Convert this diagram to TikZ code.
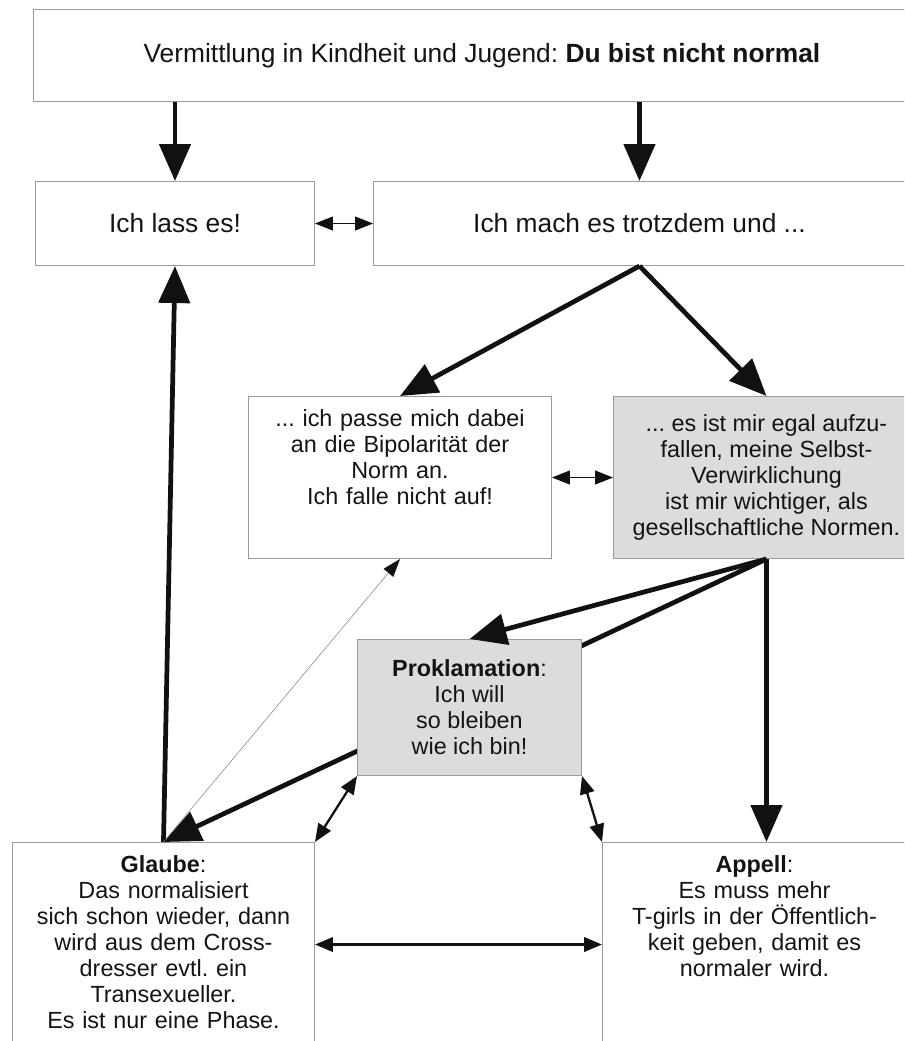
\documentclass[tikz,border=0pt]{standalone}
\usepackage{fontspec}
\setmainfont{Liberation Sans}
\usetikzlibrary{arrows.meta}
\definecolor{rahmen}{HTML}{9A9A9A}
\definecolor{grau}{HTML}{DCDCDC}
\definecolor{schrift}{HTML}{141414}
\definecolor{pfeil}{HTML}{111111}
\frenchspacing
\begin{document}
\begin{tikzpicture}[x=0.02cm,y=-0.02cm,
  box/.style={draw=rahmen,line width=0.6pt,inner sep=0pt,anchor=north west,align=center,
    text=schrift,font=\fontsize{13.3pt}{14.8pt}\selectfont},
  grossbox/.style={box,font=\fontsize{15pt}{17pt}\selectfont},
  graubox/.style={box,fill=grau},
  obenbox/.style={box,text height=0.6cm},
  dick/.style={draw=pfeil,line width=2.7pt,-{Triangle[length=0.74cm,width=0.62cm]}},
  doppel/.style={draw=pfeil,line width=1.3pt,{Triangle[length=0.36cm,width=0.29cm]}-{Triangle[length=0.36cm,width=0.29cm]}},
  fein/.style={draw=pfeil,line width=0.5pt,{Triangle[length=0.36cm,width=0.28cm]}-{Triangle[length=0.36cm,width=0.28cm]}},
  hauch/.style={draw=gray,line width=0.3pt,-{Triangle[length=0.36cm,width=0.25cm,color=pfeil]}}]
\useasboundingbox (0,0) rectangle (904,1041);
\clip (0,0) rectangle (904,1041);

% Boxes
\node[grossbox,minimum width=17.94cm,minimum height=1.84cm] (top) at (33,9)
  {Vermittlung in Kindheit und Jugend: \textbf{Du bist nicht normal}};
\node[grossbox,minimum width=5.58cm,minimum height=1.68cm] (lass) at (35,181) {Ich lass es!};
\node[grossbox,minimum width=10.64cm,minimum height=1.68cm] (mach) at (373,181) {Ich mach es trotzdem und ...};
\node[obenbox,text width=6.06cm,text depth=2.64cm] (passe) at (248,396)
  {... ich passe mich dabei\\an die Bipolarität der\\Norm an.\\Ich falle nicht auf!};
\node[graubox,minimum width=6.12cm,minimum height=3.24cm] (egal) at (613,396)
  {... es ist mir egal aufzu-\\fallen, meine Selbst-\\Verwirklichung\\ist mir wichtiger, als\\gesellschaftliche Normen.};
\node[obenbox,text width=6.04cm,text depth=3.48cm] (glaube) at (12,842)
  {\textbf{Glaube}:\\Das normalisiert\\sich schon wieder, dann\\wird aus dem Cross-\\dresser evtl. ein\\Transexueller.\\Es ist nur eine Phase.};
\node[obenbox,text width=6.08cm,text depth=3.48cm] (appell) at (602,842)
  {\textbf{Appell}:\\Es muss mehr\\T-girls in der Öffentlich-\\keit geben, damit es\\normaler wird.};

% line behind the Proklamation box
\draw[dick] (egal.south) -- (glaube.north);

\node[graubox,minimum width=4.48cm,minimum height=2.72cm] (prokl) at (357,639)
  {\textbf{Proklamation}:\\Ich will\\so bleiben\\wie ich bin!};

% Arrows
\draw[dick] (top.south -| lass.north) -- (lass.north);
\draw[dick] (top.south -| mach.north) -- (mach.north);
\draw[fein] (lass.east) -- (lass.east -| mach.west);
\draw[dick] (mach.south) -- (passe.north);
\draw[dick] (mach.south) -- (egal.north);
\draw[fein] (passe.east) -- (egal.west);
\draw[dick] (egal.south) -- (prokl.north);
\draw[dick] (egal.south) -- (egal.south |- appell.north);
\draw[dick] (glaube.north) -- (lass.south);
\draw[hauch] (glaube.north) -- (passe.south);
\draw[doppel] (prokl.south west) -- (glaube.north east);
\draw[doppel] (prokl.south east) -- (appell.north west);
\draw[doppel] (glaube.east) -- (appell.west);
\end{tikzpicture}
\end{document}
